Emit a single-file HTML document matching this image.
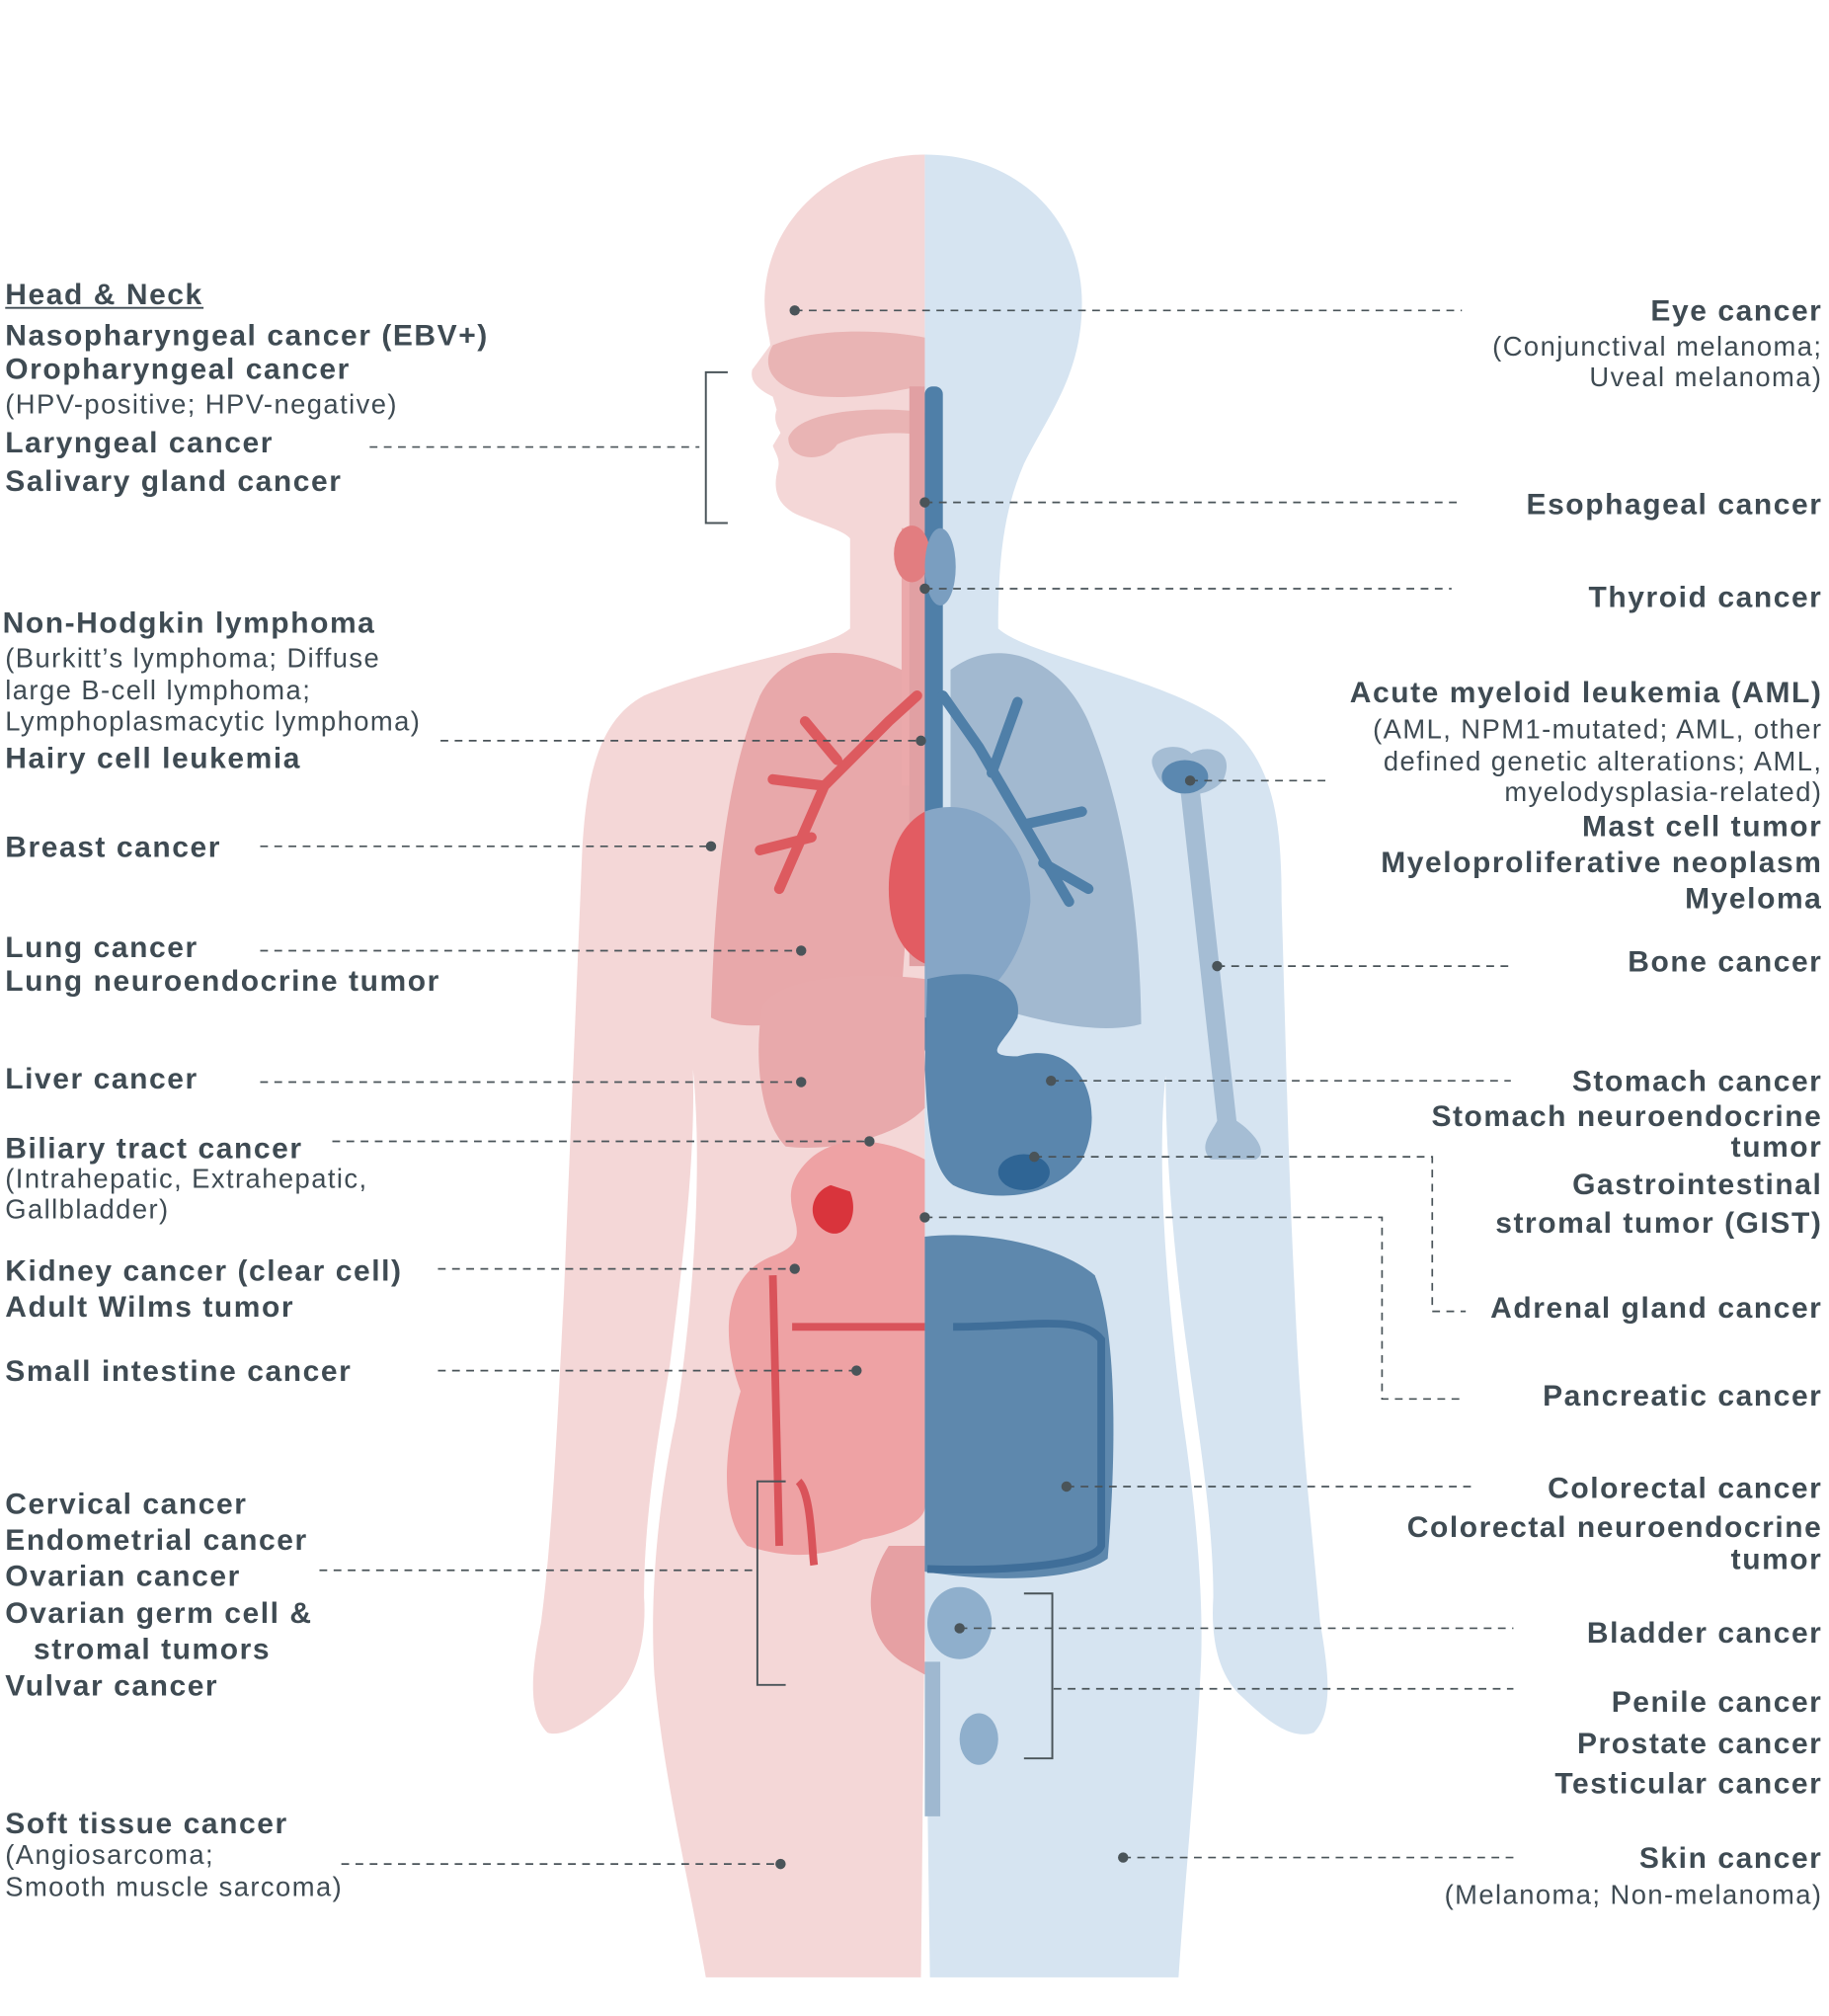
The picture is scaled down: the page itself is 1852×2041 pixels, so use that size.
<!DOCTYPE html>
<html><head><meta charset="utf-8"><style>
html,body{margin:0;padding:0;background:#fff}
svg{display:block}
.b{font-family:"Liberation Sans",sans-serif;font-weight:bold;font-size:23px;letter-spacing:1.2px;fill:#3f4b53}
.r{font-family:"Liberation Sans",sans-serif;font-size:21px;letter-spacing:1.1px;fill:#3f4b53}
.e{text-anchor:end}
.d{stroke:#4a5459;stroke-width:1.3;stroke-dasharray:6,5;fill:none}
.s{stroke:#4a5459;stroke-width:1.5;fill:none}
</style></head><body>
<svg width="1852" height="2041" viewBox="0 0 1420 1565" xmlns="http://www.w3.org/2000/svg">
<path fill="#f4d7d7" d="M718,120 C660,120 600,160 594,225 C592,245 598,262 598,268 L584,287 C582,296 588,302 600,308 L603,318 C600,326 604,332 606,336 L600,346 C602,352 606,356 604,364 C600,378 602,392 620,400 C640,408 655,412 660,418 L660,488 C640,505 560,515 500,540 C462,560 455,610 452,660 C448,760 442,900 438,1000 C432,1120 428,1200 420,1260 C412,1300 410,1330 425,1345 C440,1350 465,1330 480,1315 C495,1300 502,1270 500,1240 C500,1180 510,1120 520,1060 C530,980 540,900 538,830 C545,900 540,1000 525,1100 C508,1180 505,1250 508,1300 C515,1380 535,1460 548,1535 L715,1535 L718,1250 Z"/>
<path fill="#d6e4f1" d="M718,120 C790,120 840,170 840,235 C840,290 815,320 795,360 C780,395 775,430 775,488 C800,510 900,525 950,560 C990,590 995,640 995,700 C998,800 1000,900 1005,1000 C1010,1120 1020,1200 1025,1260 C1032,1300 1035,1330 1020,1345 C1000,1352 978,1330 962,1315 C945,1298 940,1270 942,1240 C942,1180 930,1110 922,1050 C912,980 905,900 905,835 C898,900 905,1000 918,1100 C930,1180 935,1250 932,1300 C928,1380 920,1460 915,1535 L722,1535 L718,1250 Z"/>
<path fill="#e9b4b4" d="M718,262 C680,255 630,255 600,268 C590,285 600,305 640,308 C680,310 705,300 718,300 Z"/>
<path fill="#e9b4b4" d="M718,320 C680,315 620,318 612,340 C612,358 640,360 650,345 C670,335 700,335 718,338 Z"/>
<path fill="#e8a8aa" d="M700,520 C660,500 610,500 590,540 C565,600 555,680 552,790 C580,805 650,790 700,770 L712,600 Z"/>
<path fill="#a2b9d0" d="M738,520 C770,495 820,505 845,560 C870,620 885,700 886,795 C850,805 790,790 738,770 Z"/>
<path fill="#e8a9ab" d="M718,760 C680,755 610,755 592,780 C585,820 590,870 610,890 C650,895 700,880 718,860 Z"/>
<rect x="700" y="410" width="18" height="200" fill="#eba9ab"/>
<rect x="706" y="300" width="12" height="450" fill="#e1a0a3"/>
<rect x="718" y="300" width="14" height="520" rx="6" fill="#4f7fa8"/>
<ellipse cx="708" cy="430" rx="14" ry="22" fill="#e27d80"/>
<ellipse cx="730" cy="440" rx="12" ry="30" fill="#7a9ec0"/>
<path d="M712,540 L690,560 L640,610 L605,690 M640,610 L600,605 M650,590 L625,560 M630,650 L590,660" stroke="#dd5a5f" stroke-width="8" fill="none" stroke-linecap="round"/>
<path d="M732,540 L760,580 L795,640 L830,700 M795,640 L840,630 M770,600 L790,545 M810,670 L845,690" stroke="#4f7fa8" stroke-width="8" fill="none" stroke-linecap="round"/>
<path fill="#e25c62" d="M718,630 C700,640 690,660 690,690 C690,720 700,740 718,748 Z"/>
<path fill="#86a6c6" d="M718,630 C760,615 800,650 800,700 C795,750 760,790 718,790 Z"/>
<path fill="#5a86ad" d="M720,760 C760,750 795,760 790,790 C780,810 760,820 790,820 C840,805 860,860 840,900 C820,930 770,935 740,920 C720,905 720,860 718,830 Z"/>
<ellipse cx="795" cy="910" rx="20" ry="14" fill="#2f6595"/>
<path fill="#eea2a4" d="M718,900 C680,880 640,880 620,910 C600,940 640,960 600,975 C560,990 560,1040 575,1080 C560,1130 560,1180 580,1200 C610,1210 640,1210 670,1195 C700,1190 718,1180 718,1170 Z"/>
<path d="M600,990 L605,1200 M615,1030 L718,1030 M620,1150 C630,1160 630,1200 632,1215" stroke="#d9535a" stroke-width="6" fill="none"/>
<path fill="#d9343c" d="M645,920 C630,925 625,945 640,955 C655,965 668,945 660,925 Z"/>
<path fill="#e6a0a3" d="M690,1200 C670,1230 670,1270 700,1290 L718,1300 L718,1200 Z"/>
<path fill="#5e88ad" d="M718,960 C760,955 820,965 850,990 C870,1040 865,1150 860,1210 C840,1225 780,1230 718,1220 Z"/>
<path d="M740,1030 C800,1030 840,1020 855,1040 L855,1200 C850,1215 780,1220 720,1218" stroke="#3f6e99" stroke-width="6" fill="none"/>
<ellipse cx="745" cy="1260" rx="25" ry="28" fill="#8fafcc"/>
<ellipse cx="760" cy="1350" rx="15" ry="20" fill="#8fafcc"/>
<rect x="718" y="1290" width="12" height="120" fill="#9fb8d0"/>
<path fill="#a5bdd4" d="M915,600 L930,600 L960,870 C975,880 985,895 975,900 L940,900 C930,890 940,880 945,870 Z"/>
<path fill="#a5bdd4" d="M895,595 C890,580 915,575 925,585 C935,578 960,580 950,605 C940,620 905,625 895,595 Z"/>
<ellipse cx="920" cy="603" rx="18" ry="13" fill="#5b88b0"/>

<g class="d">
<path d="M617,241 H1135"/><path d="M287,347 H543"/><path d="M718,390 H1132"/><path d="M718,457 H1127"/>
<path d="M342,575 H715"/><path d="M924,606 H1030"/><path d="M202,657 H552"/><path d="M202,738 H622"/>
<path d="M945,750 H1175"/><path d="M202,840 H622"/><path d="M816,839 H1173"/><path d="M258,886 H675"/>
<path d="M803,898 H1112 V1018 H1138"/><path d="M718,945 H1073 V1086 H1135"/><path d="M340,985 H617"/>
<path d="M340,1064 H665"/><path d="M828,1154 H1145"/><path d="M248,1219 H585"/><path d="M745,1264 H1175"/>
<path d="M818,1311 H1175"/><path d="M265,1447 H606"/><path d="M872,1442 H1175"/>
</g>
<g class="s">
<path d="M565,289 H548 V406 H565"/><path d="M610,1150 H588 V1308 H610"/><path d="M795,1237 H817 V1365 H795"/>
</g>
<g fill="#4a5459">
<circle cx="617" cy="241" r="4"/><circle cx="718" cy="390" r="4"/><circle cx="718" cy="457" r="4"/>
<circle cx="715" cy="575" r="4"/><circle cx="924" cy="606" r="4"/><circle cx="552" cy="657" r="4"/>
<circle cx="622" cy="738" r="4"/><circle cx="945" cy="750" r="4"/><circle cx="622" cy="840" r="4"/>
<circle cx="816" cy="839" r="4"/><circle cx="675" cy="886" r="4"/><circle cx="803" cy="898" r="4"/>
<circle cx="718" cy="945" r="4"/><circle cx="617" cy="985" r="4"/><circle cx="665" cy="1064" r="4"/>
<circle cx="828" cy="1154" r="4"/><circle cx="745" cy="1264" r="4"/><circle cx="606" cy="1447" r="4"/>
<circle cx="872" cy="1442" r="4"/>
</g>

<text class="b" x="4" y="236">Head &amp; Neck</text>
<line x1="4" y1="239" x2="158" y2="239" stroke="#3f4b53" stroke-width="1.5"/>
<text class="b" x="4" y="268">Nasopharyngeal cancer (EBV+)</text>
<text class="b" x="4" y="294">Oropharyngeal cancer</text>
<text class="r" x="4" y="321">(HPV-positive; HPV-negative)</text>
<text class="b" x="4" y="351">Laryngeal cancer</text>
<text class="b" x="4" y="381">Salivary gland cancer</text>
<text class="b" x="2" y="491">Non-Hodgkin lymphoma</text>
<text class="r" x="4" y="518">(Burkitt’s lymphoma; Diffuse</text>
<text class="r" x="4" y="543">large B-cell lymphoma;</text>
<text class="r" x="4" y="567">Lymphoplasmacytic lymphoma)</text>
<text class="b" x="4" y="596">Hairy cell leukemia</text>
<text class="b" x="4" y="665">Breast cancer</text>
<text class="b" x="4" y="743">Lung cancer</text>
<text class="b" x="4" y="769">Lung neuroendocrine tumor</text>
<text class="b" x="4" y="845">Liver cancer</text>
<text class="b" x="4" y="899">Biliary tract cancer</text>
<text class="r" x="4" y="922">(Intrahepatic, Extrahepatic,</text>
<text class="r" x="4" y="946">Gallbladder)</text>
<text class="b" x="4" y="994">Kidney cancer (clear cell)</text>
<text class="b" x="4" y="1022">Adult Wilms tumor</text>
<text class="b" x="4" y="1072">Small intestine cancer</text>
<text class="b" x="4" y="1175">Cervical cancer</text>
<text class="b" x="4" y="1203">Endometrial cancer</text>
<text class="b" x="4" y="1231">Ovarian cancer</text>
<text class="b" x="4" y="1260">Ovarian germ cell &amp;</text>
<text class="b" x="26" y="1288">stromal tumors</text>
<text class="b" x="4" y="1316">Vulvar cancer</text>
<text class="b" x="4" y="1423">Soft tissue cancer</text>
<text class="r" x="4" y="1447">(Angiosarcoma;</text>
<text class="r" x="4" y="1472">Smooth muscle sarcoma)</text>

<text class="b e" x="1415" y="249">Eye cancer</text>
<text class="r e" x="1415" y="276">(Conjunctival melanoma;</text>
<text class="r e" x="1415" y="300">Uveal melanoma)</text>
<text class="b e" x="1415" y="399">Esophageal cancer</text>
<text class="b e" x="1415" y="471">Thyroid cancer</text>
<text class="b e" x="1415" y="545">Acute myeloid leukemia (AML)</text>
<text class="r e" x="1415" y="573">(AML, NPM1-mutated; AML, other</text>
<text class="r e" x="1415" y="598">defined genetic alterations; AML,</text>
<text class="r e" x="1415" y="622">myelodysplasia-related)</text>
<text class="b e" x="1415" y="649">Mast cell tumor</text>
<text class="b e" x="1415" y="677">Myeloproliferative neoplasm</text>
<text class="b e" x="1415" y="705">Myeloma</text>
<text class="b e" x="1415" y="754">Bone cancer</text>
<text class="b e" x="1415" y="847">Stomach cancer</text>
<text class="b e" x="1415" y="874">Stomach neuroendocrine</text>
<text class="b e" x="1415" y="898">tumor</text>
<text class="b e" x="1415" y="927">Gastrointestinal</text>
<text class="b e" x="1415" y="957">stromal tumor (GIST)</text>
<text class="b e" x="1415" y="1023">Adrenal gland cancer</text>
<text class="b e" x="1415" y="1091">Pancreatic cancer</text>
<text class="b e" x="1415" y="1163">Colorectal cancer</text>
<text class="b e" x="1415" y="1193">Colorectal neuroendocrine</text>
<text class="b e" x="1415" y="1218">tumor</text>
<text class="b e" x="1415" y="1275">Bladder cancer</text>
<text class="b e" x="1415" y="1329">Penile cancer</text>
<text class="b e" x="1415" y="1361">Prostate cancer</text>
<text class="b e" x="1415" y="1392">Testicular cancer</text>
<text class="b e" x="1415" y="1450">Skin cancer</text>
<text class="r e" x="1415" y="1478">(Melanoma; Non-melanoma)</text>
</svg>
</body></html>
